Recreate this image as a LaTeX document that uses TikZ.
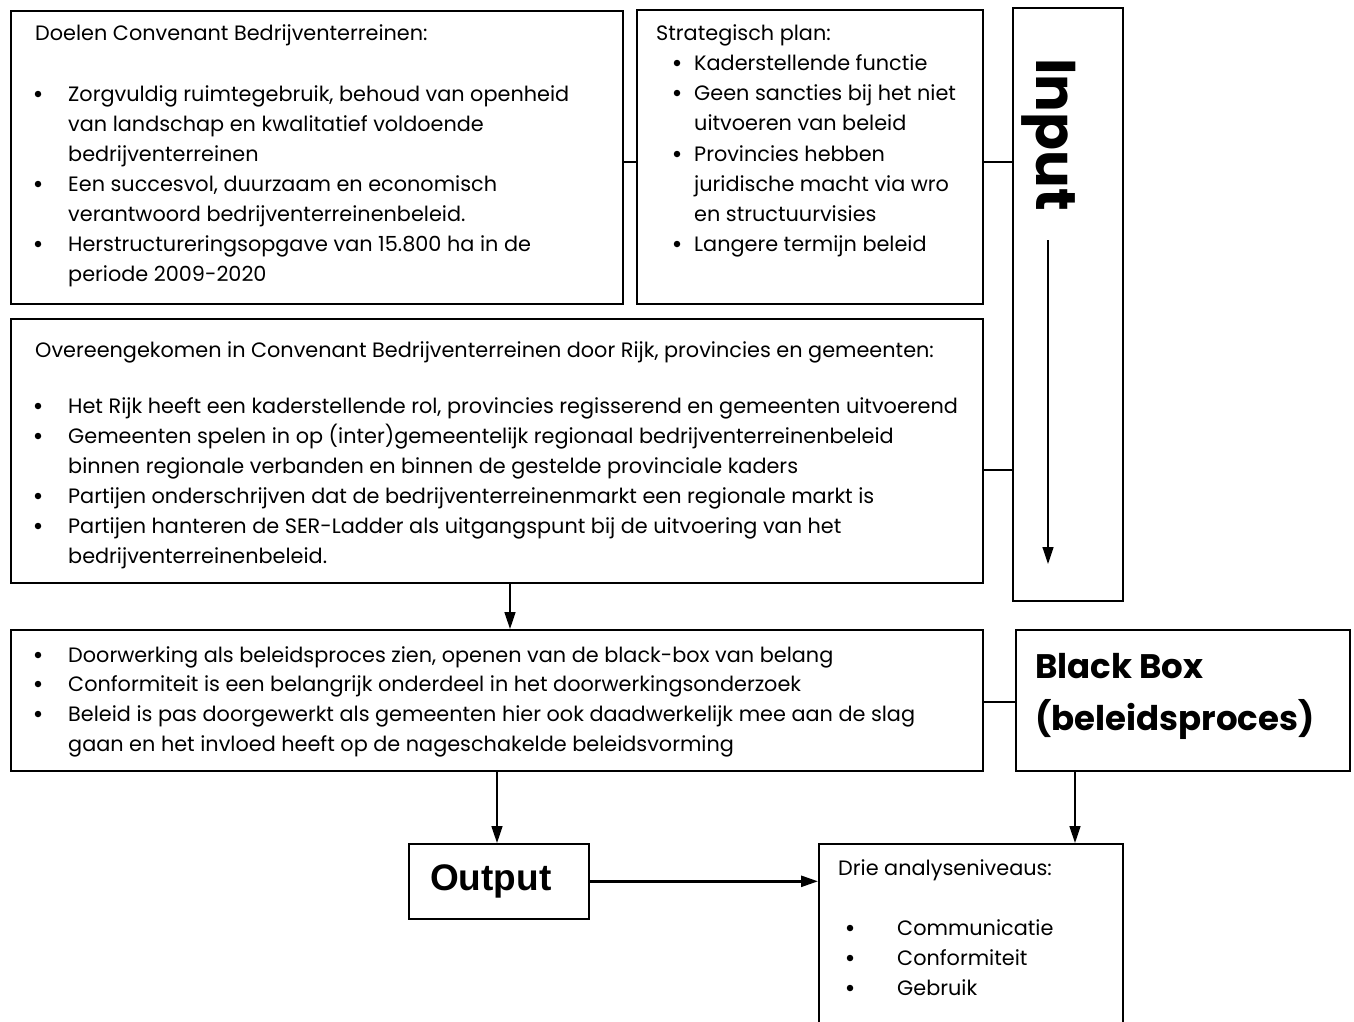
\documentclass[tikz,border=0pt]{standalone}
\usepackage{fontspec}
\setmainfont{Poppins}
\newfontfamily\arialfont{Liberation Sans}
\usetikzlibrary{arrows.meta}

\newcommand{\bodyfont}{\fontsize{20.8}{30}\selectfont}
\newcommand{\bigfont}{\fontsize{34}{52}\selectfont\bfseries}

\begin{document}
\begin{tikzpicture}[x=1pt,y=-1pt,
  box/.style={draw, line width=1.6pt, inner sep=0pt, anchor=north west},
  txt/.style={font=\bodyfont, anchor=base west, inner sep=0pt},
  bul/.style={circle, fill, inner sep=0pt, minimum size=6.5pt},
  link/.style={line width=1.3pt},
  arr/.style={line width=1.6pt, -{Triangle[length=17pt,width=11pt]}}
]
\useasboundingbox (0,0) rectangle (1354,1021);

% ---------- boxes ----------
\node[box, minimum width=612, minimum height=293] (doelen) at (10,10) {};
\node[box, minimum width=346, minimum height=294] (strat) at (636,9) {};
\node[box, minimum width=110, minimum height=593] (input) at (1012,7) {};
\node[box, minimum width=972, minimum height=264] (overeen) at (10,318) {};
\node[box, minimum width=972, minimum height=141] (doorw) at (10,629) {};
\node[box, minimum width=334, minimum height=141] (black) at (1015,629) {};
\node[box, minimum width=180, minimum height=75] (output) at (408,843) {};
\node[box, minimum width=304, minimum height=200] (drie) at (818,843) {};

% ---------- Doelen Convenant Bedrijventerreinen ----------
\node[txt] (d0) at (35,40) {Doelen Convenant Bedrijventerreinen:};
\foreach \yy/\tx [count=\i] in {
  101/{Zorgvuldig ruimtegebruik, behoud van openheid},
  131/{van landschap en kwalitatief voldoende},
  161/{bedrijventerreinen},
  191/{Een succesvol, duurzaam en economisch},
  221/{verantwoord bedrijventerreinenbeleid.},
  251/{Herstructureringsopgave van 15.800 ha in de},
  281/{periode 2009-2020}}
  \node[txt] (d\i) at (68,\yy) {\tx};
\foreach \yy [count=\i] in {101,191,251}
  \node[bul] (db\i) at (38,\yy-7) {};

% ---------- Strategisch plan ----------
\node[txt] (s0) at (656,40) {Strategisch plan:};
\foreach \yy/\tx [count=\i] in {
  70/{Kaderstellende functie},
  100/{Geen sancties bij het niet},
  130/{uitvoeren van beleid},
  161/{Provincies hebben},
  191/{juridische macht via wro},
  221/{en structuurvisies},
  251/{Langere termijn beleid}}
  \node[txt] (s\i) at (694,\yy) {\tx};
\foreach \yy [count=\i] in {70,100,161,251}
  \node[bul] (sb\i) at (677,\yy-7) {};

% ---------- Overeengekomen ----------
\node[txt] (o0) at (35,357) {Overeengekomen in Convenant Bedrijventerreinen door Rijk, provincies en gemeenten:};
\foreach \yy/\tx [count=\i] in {
  413/{Het Rijk heeft een kaderstellende rol, provincies regisserend en gemeenten uitvoerend},
  443/{Gemeenten spelen in op (inter)gemeentelijk regionaal bedrijventerreinenbeleid},
  473/{binnen regionale verbanden en binnen de gestelde provinciale kaders},
  503/{Partijen onderschrijven dat de bedrijventerreinenmarkt een regionale markt is},
  533/{Partijen hanteren de SER-Ladder als uitgangspunt bij de uitvoering van het},
  563/{bedrijventerreinenbeleid.}}
  \node[txt] (o\i) at (68,\yy) {\tx};
\foreach \yy [count=\i] in {413,443,503,533}
  \node[bul] (ob\i) at (38,\yy-7) {};

% ---------- Doorwerking ----------
\foreach \yy/\tx [count=\i] in {
  662/{Doorwerking als beleidsproces zien, openen van de black-box van belang},
  691/{Conformiteit is een belangrijk onderdeel in het doorwerkingsonderzoek},
  721/{Beleid is pas doorgewerkt als gemeenten hier ook daadwerkelijk mee aan de slag},
  751/{gaan en het invloed heeft op de nageschakelde beleidsvorming}}
  \node[txt] (w\i) at (68,\yy) {\tx};
\foreach \yy [count=\i] in {662,691,721}
  \node[bul] (wb\i) at (38,\yy-7) {};

% ---------- Drie analyseniveaus ----------
\node[txt] (a0) at (838,875) {Drie analyseniveaus:};
\foreach \yy/\tx [count=\i] in {935/{Communicatie},965/{Conformiteit},995/{Gebruik}}
  \node[txt] (a\i) at (897,\yy) {\tx};
\foreach \yy [count=\i] in {935,965,995}
  \node[bul] (ab\i) at (850,\yy-7) {};

% ---------- large labels ----------
\node[font=\bigfont, anchor=base west, inner sep=0pt] (bb1) at (1035,678) {Black Box};
\node[font=\bigfont, anchor=base west, inner sep=0pt] (bb2) at (1035,730) {(beleidsproces)};
\node[font=\arialfont\bfseries\fontsize{37}{40}\selectfont, inner sep=0pt] (outtxt) at ([xshift=-8pt]output.center) {Output};
\node[font=\fontsize{56}{60}\selectfont\bfseries, rotate=-90, anchor=base west, inner sep=0pt] (intxt) at (1036,58) {Input};

% ---------- connectors ----------
\coordinate (inEnd) at (1048,564);
\draw[arr, line width=1.3pt] (1048,240) -- (inEnd);
\draw[link] (doelen.east |- 0,162) -- (strat.west |- 0,162);
\draw[link] (strat.east |- 0,162) -- (input.west |- 0,162);
\draw[link] (overeen.east |- 0,470) -- (input.west |- 0,470);
\draw[link] (doorw.east |- 0,702) -- (black.west |- 0,702);
\draw[arr] (overeen.south -| 510,0) -- (doorw.north -| 510,0);
\draw[arr] (doorw.south -| 497,0) -- (output.north -| 497,0);
\draw[arr] (black.south -| 1075,0) -- (drie.north -| 1075,0);
\draw[arr, line width=2.6pt] (output.east) -- (output.east -| drie.west);
\end{tikzpicture}
\end{document}
